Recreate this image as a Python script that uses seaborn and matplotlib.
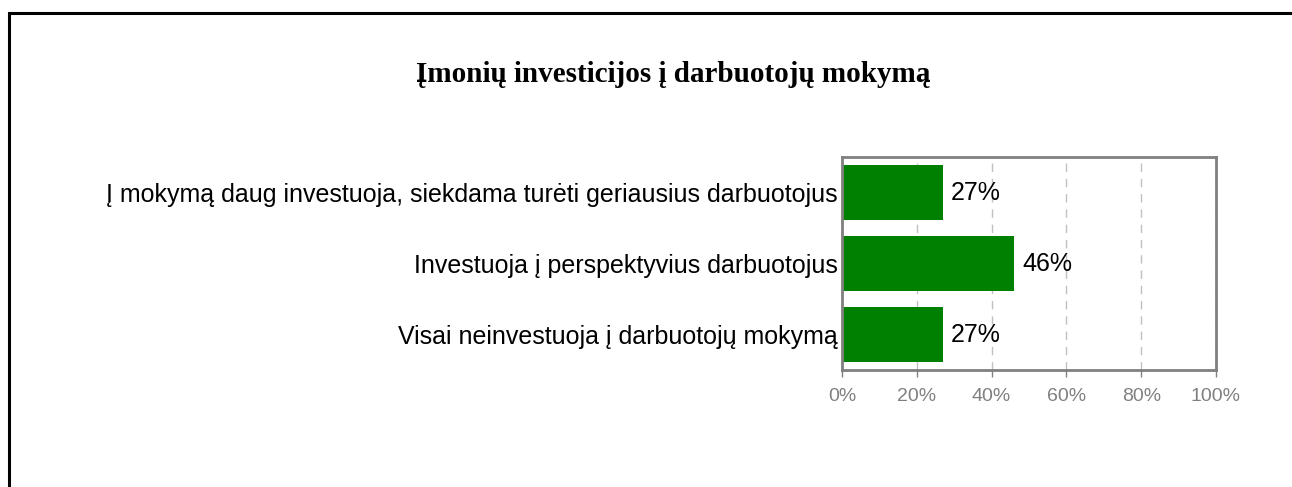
import matplotlib
matplotlib.use("Agg")
import matplotlib.pyplot as plt
import seaborn as sns
import pandas as pd
from matplotlib.patches import Rectangle
from matplotlib.ticker import FuncFormatter, FixedLocator

categories = [
    "Į mokymą daug investuoja, siekdama turėti geriausius darbuotojus",
    "Investuoja į perspektyvius darbuotojus",
    "Visai neinvestuoja į darbuotojų mokymą",
]
shares = [27, 46, 27]
x_ticks = [0, 20, 40, 60, 80, 100]
title = "Įmonių investicijos į darbuotojų mokymą"

df = pd.DataFrame({"category": categories, "share": shares})

sns.set_theme(style="white")
plt.rcParams["font.family"] = ["Liberation Sans", "DejaVu Sans"]
plt.rcParams["text.color"] = "black"

W, H = 1292, 487
fig = plt.figure(figsize=(W / 100, H / 100), dpi=100)
fig.patch.set_facecolor("white")

# outer frame
fig.patches.append(Rectangle((9 / W, -0.1), 1.2, 1 - 13 / H + 0.1,
                             transform=fig.transFigure, fill=False,
                             edgecolor="black", linewidth=2.2, zorder=0))

ax = fig.add_axes([842 / W, 1 - 370 / H, (1216 - 842) / W, (370 - 157) / H])
sns.barplot(data=df, x="share", y="category", orient="h", color="#008000",
            saturation=1, width=0.78, linewidth=0, ax=ax, zorder=2)

ax.set_xlim(0, 100)
ax.set_ylim(2.5, -0.5)
ax.xaxis.set_major_locator(FixedLocator(x_ticks))
ax.xaxis.set_major_formatter(FuncFormatter(lambda v, p: f"{v:.0f}%"))
ax.grid(axis="x", color="#c0c0c0", linestyle=(0, (6, 5)), linewidth=1, zorder=0)
ax.grid(axis="y", visible=False)
ax.set_axisbelow(True)
ax.set_xlabel("")
ax.set_ylabel("")

for s in ax.spines.values():
    s.set_color("#808080")
    s.set_linewidth(2)
    s.set_visible(True)
    s.set_zorder(4)

ax.tick_params(axis="x", colors="#808080", labelcolor="#808080", labelsize=14,
               length=5, width=1, direction="out", bottom=True, pad=8)
ax.tick_params(axis="y", length=0, labelsize=18, labelcolor="black", pad=3)

for i, v in enumerate(shares):
    ax.text(v + 2.1, i, f"{v}%", va="center", ha="left", fontsize=18,
            color="black")

fig.text(673 / W, 1 - 75 / H, title, ha="center", va="center", color="black",
         fontsize=21, fontweight="bold", family=["Liberation Serif", "DejaVu Serif"])

fig.savefig("out.png", dpi=100)
